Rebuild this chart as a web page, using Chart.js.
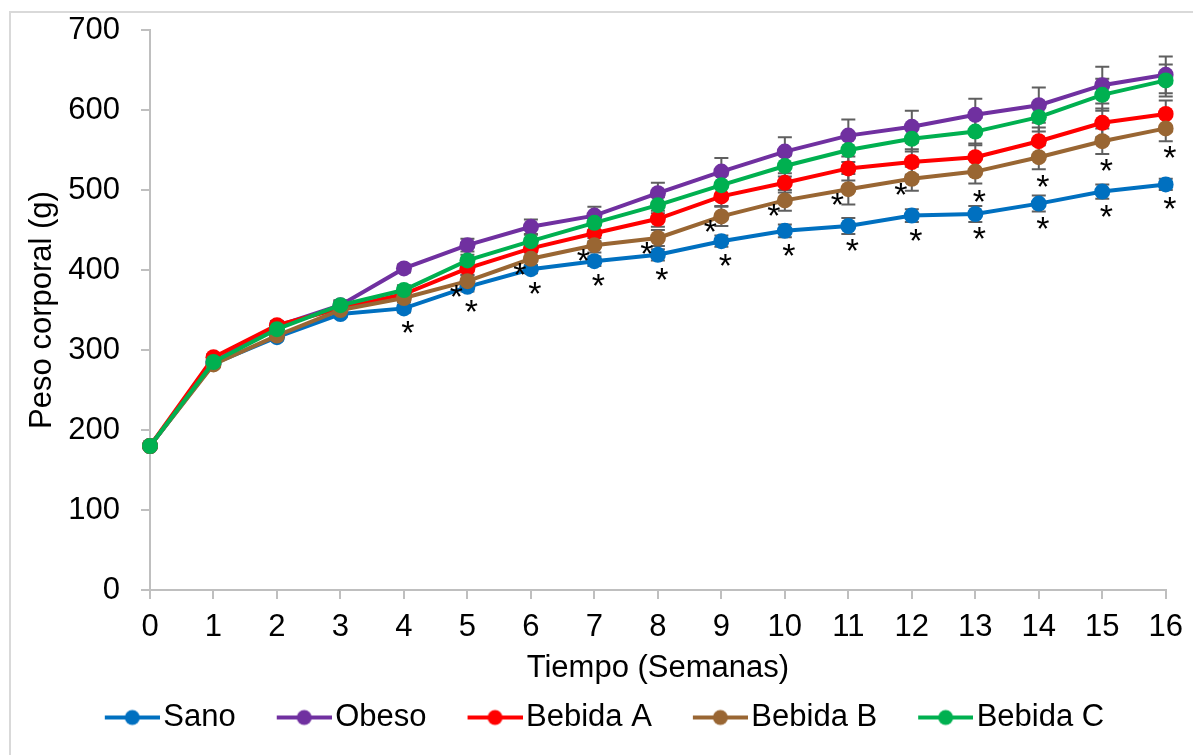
<!DOCTYPE html>
<html>
    <head>
        <title>Peso corporal</title>
        <script src="https://cdn.jsdelivr.net/npm/chart.js"></script>
        <style>
            body { margin: 0; background: #fff; }
            #wrap { position: relative; width: 1193px; height: 755px; }
            #frame { position: absolute; left: 9px; top: 11px; right: -2px; bottom: -2px; border-left: 2px solid #d9d9d9; border-top: 2px solid #d9d9d9; }
            #peso { position: absolute; left: 0; top: 0; }
        </style>
    </head>
    <body>
        <div id="wrap">
            <div id="frame"></div>
            <canvas id="peso" width="1193" height="755"></canvas>
        </div>

    <script>
        // semanas y peso medio por grupo (g)
        var semanas = ['0','1','2','3','4','5','6','7','8','9','10','11','12','13','14','15','16'];

        var sano     = [180, 283, 316, 345, 352, 379, 401, 411, 419, 436, 449, 455, 468, 470, 483, 498, 507];
        var obeso    = [180, 285, 330, 356, 402, 431, 454, 468, 496, 523, 548, 568, 579, 594, 606, 631, 644];
        var bebidaA  = [180, 291, 331, 352, 370, 402, 427, 446, 464, 492, 509, 527, 535, 541, 561, 584, 595];
        var bebidaB  = [180, 282, 318, 350, 365, 386, 414, 431, 440, 467, 487, 501, 514, 523, 541, 561, 577];
        var bebidaC  = [180, 285, 326, 356, 375, 412, 436, 459, 481, 506, 530, 550, 564, 573, 591, 619, 637];

        // error estandar
        var errSano    = [0, 3, 4, 4, 5, 6, 5, 6, 7, 7, 8, 10, 8, 10, 10, 9, 7];
        var errObeso   = [0, 4, 6, 6, 5, 8, 9, 11, 13, 17, 18, 20, 20, 20, 22, 23, 23];
        var errBebidaA = [0, 4, 5, 5, 6, 8, 9, 10, 10, 12, 12, 15, 16, 17, 17, 18, 17];
        var errBebidaB = [0, 3, 4, 5, 5, 7, 8, 9, 10, 12, 13, 19, 15, 15, 15, 16, 16];
        var errBebidaC = [0, 4, 5, 6, 6, 7, 8, 9, 10, 12, 13, 15, 16, 17, 18, 20, 20];

        // semanas con diferencia significativa (*)
        var sigSano    = [4, 5, 6, 7, 8, 9, 10, 11, 12, 13, 14, 15, 16];
        var sigBebidaB = [5, 6, 7, 8, 9, 10, 11, 12, 13, 14, 15, 16];

        var fuente = '"Liberation Sans", Arial, sans-serif';

        var grupos = [
            { label: 'Sano',     data: sano,    err: errSano,    color: '#0070C0' },
            { label: 'Obeso',    data: obeso,   err: errObeso,   color: '#7030A0' },
            { label: 'Bebida A', data: bebidaA, err: errBebidaA, color: '#FF0000' },
            { label: 'Bebida B', data: bebidaB, err: errBebidaB, color: '#996633' },
            { label: 'Bebida C', data: bebidaC, err: errBebidaC, color: '#00B050' }
        ];

        // marcador de leyenda: linea con punto
        function marcador(color) {
            var c = document.createElement('canvas');
            c.width = 98;
            c.height = 20;
            var g = c.getContext('2d');
            g.strokeStyle = color;
            g.lineWidth = 4;
            g.beginPath();
            g.moveTo(43, 10);
            g.lineTo(98, 10);
            g.stroke();
            g.fillStyle = color;
            g.beginPath();
            g.arc(70.5, 10, 7.5, 0, Math.PI * 2);
            g.fill();
            return c;
        }

        var erroresPlugin = {
            id: 'errores',
            beforeDatasetsDraw: function (chart) {
                var ctx = chart.ctx;
                var y = chart.scales.y;
                ctx.save();
                ctx.strokeStyle = '#5f5f5f';
                ctx.lineWidth = 2;
                grupos.forEach(function (g, i) {
                    var pts = chart.getDatasetMeta(i).data;
                    g.data.forEach(function (v, j) {
                        if (!g.err[j]) return;
                        var x = pts[j].x;
                        var top = y.getPixelForValue(v + g.err[j]);
                        var bot = y.getPixelForValue(v - g.err[j]);
                        ctx.beginPath();
                        ctx.moveTo(x, top); ctx.lineTo(x, bot);
                        ctx.moveTo(x - 7, top); ctx.lineTo(x + 7, top);
                        ctx.moveTo(x - 7, bot); ctx.lineTo(x + 7, bot);
                        ctx.stroke();
                    });
                });
                ctx.restore();
            }
        };

        var asteriscosPlugin = {
            id: 'asteriscos',
            afterDatasetsDraw: function (chart) {
                var ctx = chart.ctx;
                ctx.save();
                ctx.fillStyle = '#000';
                ctx.font = '34px ' + fuente;
                ctx.textAlign = 'center';
                ctx.textBaseline = 'alphabetic';
                var ptsSano = chart.getDatasetMeta(0).data;
                sigSano.forEach(function (s) {
                    var p = ptsSano[s];
                    ctx.fillText('*', p.x + 4, p.y + 16 + 20);
                });
                var ptsB = chart.getDatasetMeta(3).data;
                sigBebidaB.forEach(function (s) {
                    var p = ptsB[s];
                    if (s <= 12) ctx.fillText('*', p.x - 11, p.y + 7 + 20);
                    else ctx.fillText('*', p.x + 4, p.y + 21 + 20);
                });
                ctx.restore();
            }
        };

        var ctxPeso = document.getElementById('peso').getContext('2d');
        var pesoChart = new Chart(ctxPeso, {
            type: 'line',
            data: {
                labels: semanas,
                datasets: grupos.map(function (g, i) {
                    return {
                        label: g.label,
                        data: g.data,
                        borderColor: g.color,
                        backgroundColor: g.color,
                        borderWidth: 4,
                        pointRadius: 8,
                        pointHoverRadius: 8,
                        pointBorderWidth: 0,
                        tension: 0,
                        order: grupos.length - i
                    };
                })
            },
            options: {
                responsive: false,
                animation: false,
                devicePixelRatio: 1,
                layout: { padding: { top: 30, right: 25, bottom: 12, left: 10 } },
                scales: {
                    x: {
                        offset: false,
                        afterFit: function (scale) { scale.height = 102; },
                        grid: { drawOnChartArea: false, tickLength: 9, color: '#bfbfbf', lineWidth: 2 },
                        border: { color: '#bfbfbf', width: 2 },
                        ticks: { color: '#000', padding: 10, maxRotation: 0, font: { family: fuente, size: 31 } },
                        title: { display: true, text: 'Tiempo (Semanas)', color: '#000', padding: { top: 0, bottom: 5 }, font: { family: fuente, size: 31 } }
                    },
                    y: {
                        min: 0,
                        max: 700,
                        afterFit: function (scale) {
                            scale.width = 140;
                            scale.paddingTop = 0;
                        },
                        grid: { drawOnChartArea: false, tickLength: 9, color: '#bfbfbf', lineWidth: 2 },
                        border: { color: '#bfbfbf', width: 2 },
                        ticks: { stepSize: 100, color: '#000', padding: 21, font: { family: fuente, size: 31 } },
                        title: { display: true, text: 'Peso corporal (g)', color: '#000', padding: { top: 14, bottom: 0 }, font: { family: fuente, size: 31 } }
                    }
                },
                plugins: {
                    tooltip: { enabled: false },
                    legend: {
                        position: 'bottom',
                        labels: {
                            usePointStyle: true,
                            pointStyleWidth: 74,
                            boxHeight: 20,
                            padding: 10,
                            color: '#000',
                            font: { family: fuente, size: 31 },
                            generateLabels: function (chart) {
                                return grupos.map(function (g, i) {
                                    return {
                                        text: g.label,
                                        datasetIndex: i,
                                        pointStyle: marcador(g.color),
                                        fillStyle: g.color,
                                        strokeStyle: g.color,
                                        lineWidth: 0,
                                        fontColor: '#000',
                                        hidden: false
                                    };
                                });
                            }
                        }
                    }
                }
            },
            plugins: [erroresPlugin, asteriscosPlugin]
        });
    </script>
    </body>
</html>
